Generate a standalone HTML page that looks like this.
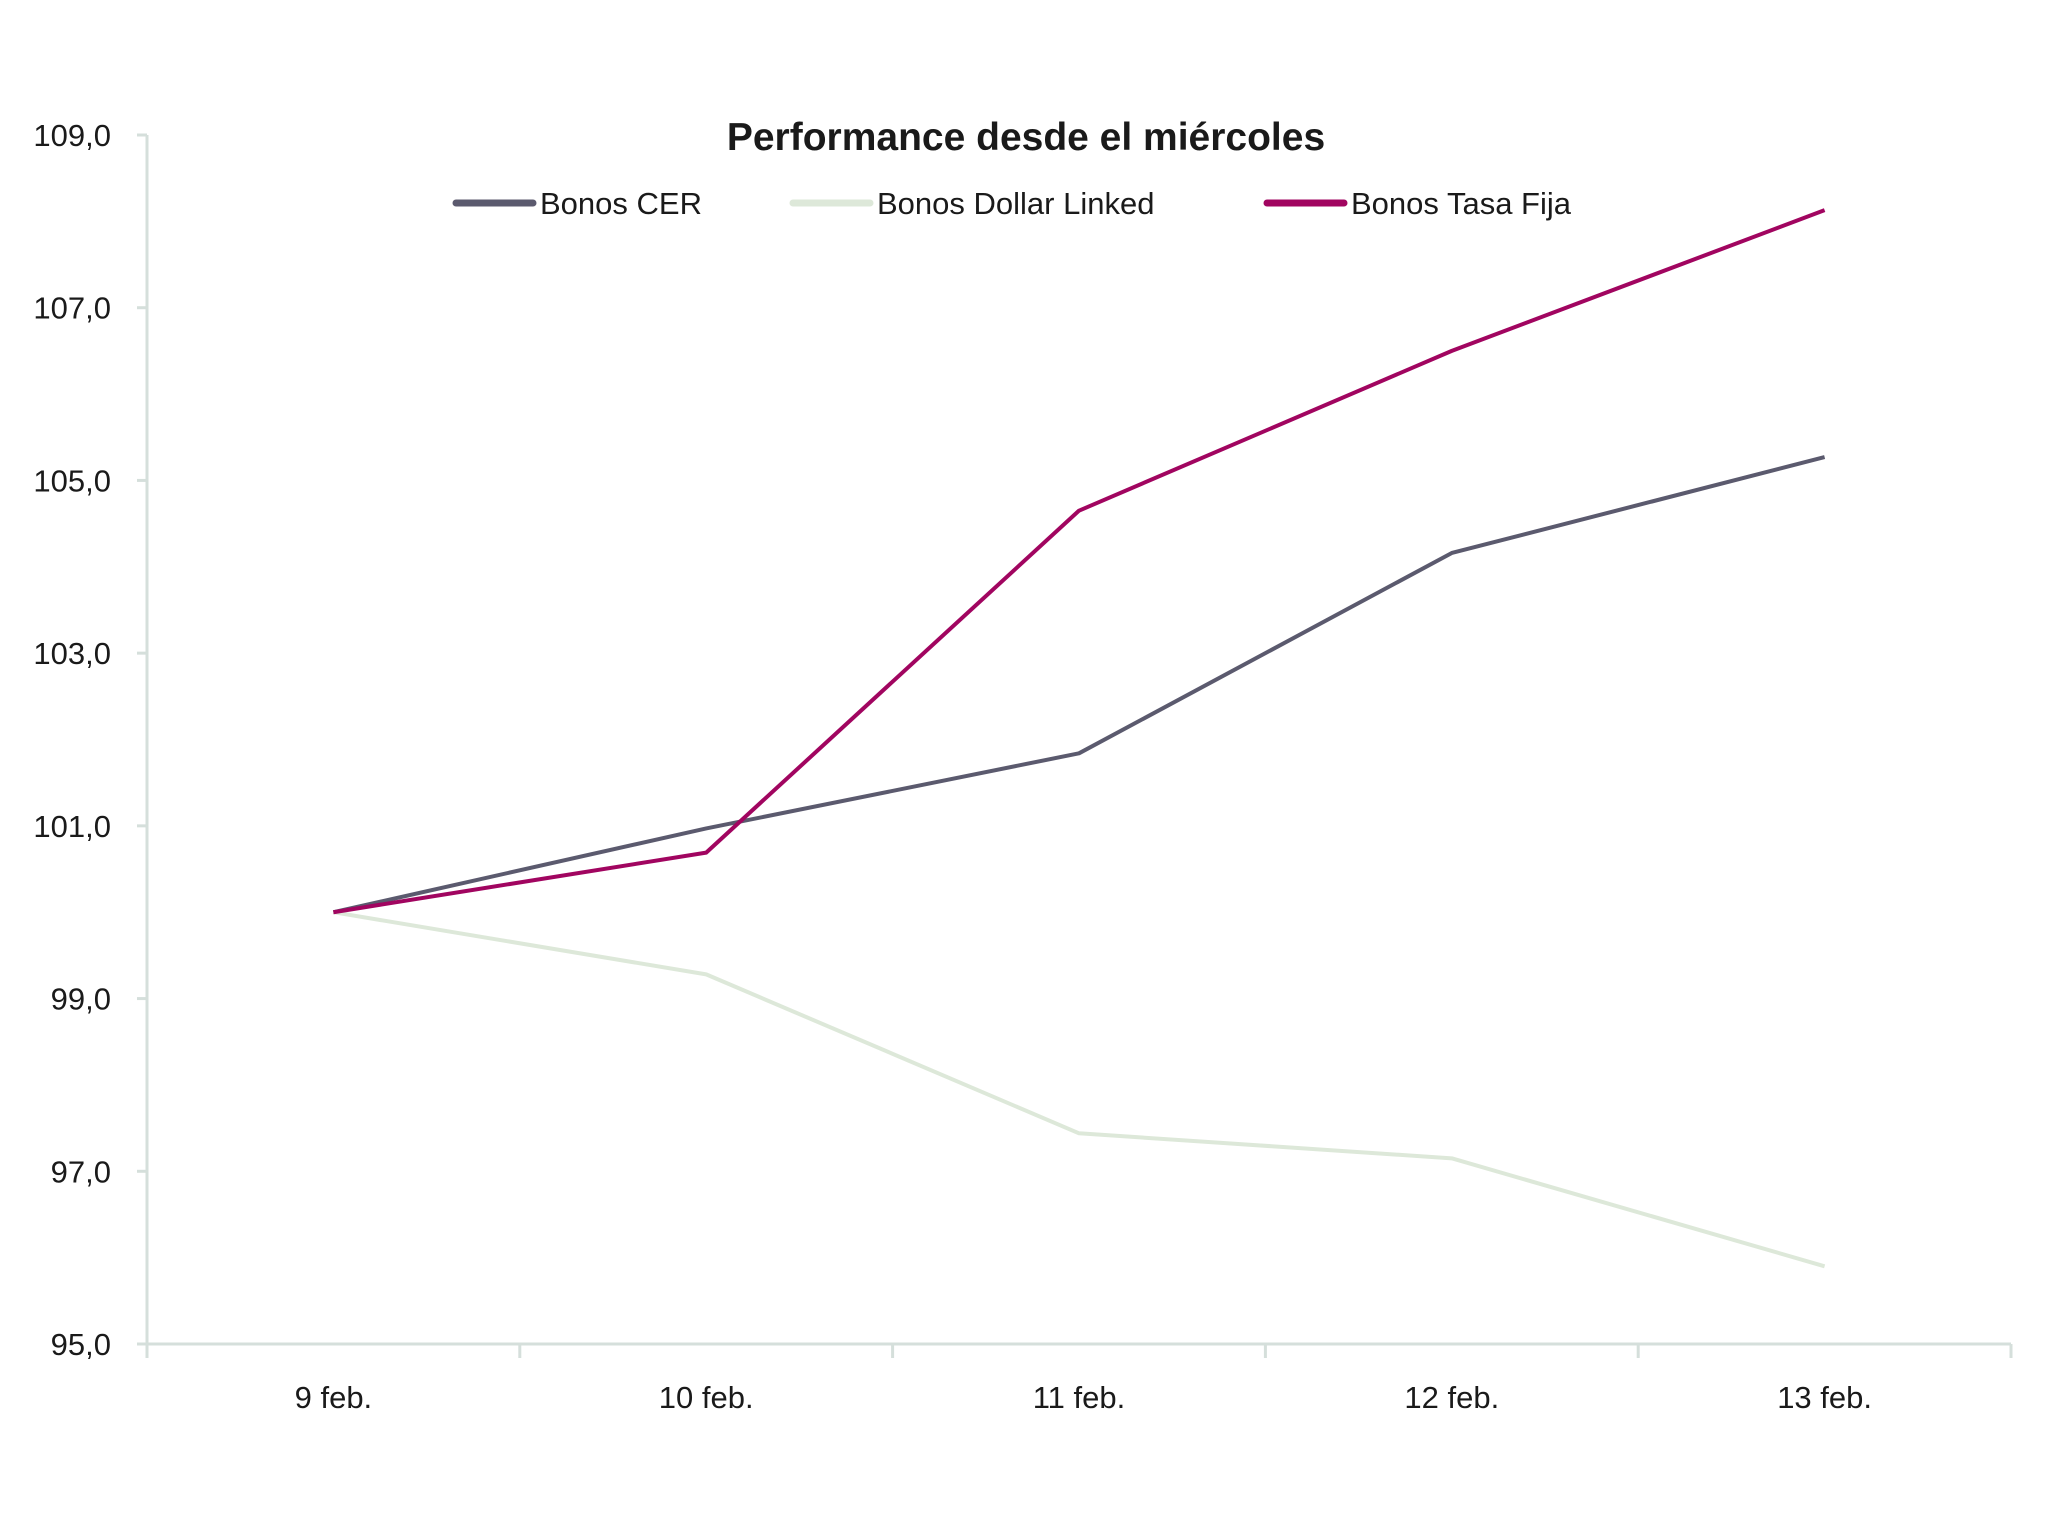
<!DOCTYPE html>
<html><head><meta charset="utf-8"><style>
body{margin:0;background:#fff;}
svg text{font-family:"Liberation Sans",sans-serif;fill:#1a1a1a;}
</style></head><body>
<svg id="chart" width="2054" height="1529" xmlns="http://www.w3.org/2000/svg">
<text x="1026" y="150" font-size="39" font-weight="bold" text-anchor="middle">Performance desde el miércoles</text>
<g id="legend"></g>
<g id="axes"></g>
<g id="series"></g>
</svg>
<script>
const categories = ["9 feb.","10 feb.","11 feb.","12 feb.","13 feb."];
const cer = [100.0, 100.97, 101.84, 104.16, 105.27];
const dollarLinked = [100.0, 99.28, 97.44, 97.15, 95.9];
const tasaFija = [100.0, 100.69, 104.65, 106.5, 108.13];
const yTicks = [95,97,99,101,103,105,107,109];
const yTickLabels = ["95,0","97,0","99,0","101,0","103,0","105,0","107,0","109,0"];
const seriesNames = ["Bonos CER","Bonos Dollar Linked","Bonos Tasa Fija"];
const colors = ["#5b5a6e","#dde8d9","#a10560"];

const NS="http://www.w3.org/2000/svg";
const L=147,R=2011,T=135,B=1344,yMin=95,yMax=109;
const bw=(R-L)/categories.length;
const xs=i=>L+bw*(i+0.5);
const ys=v=>B-(v-yMin)/(yMax-yMin)*(B-T);
function mk(tag,attrs,parent){const e=document.createElementNS(NS,tag);for(const k in attrs)e.setAttribute(k,attrs[k]);parent.appendChild(e);return e;}
const axes=document.getElementById('axes');
const yAxis=mk('line',{x1:L,y1:T,x2:L,y2:B,stroke:'#d5dfdb','stroke-width':3},axes);


const xAxis=mk('line',{x1:L,y1:B,x2:R,y2:B,stroke:'#d5dfdb','stroke-width':3},axes);


yTicks.forEach((v,i)=>{
  const y=ys(v);
  mk('line',{x1:L-10,y1:y,x2:L,y2:y,stroke:'#d5dfdb','stroke-width':3},axes);
  const t=mk('text',{x:111,y:y+11,'font-size':31,'text-anchor':'end'},axes);
  t.textContent=yTickLabels[i];
  
  
});
for(let i=0;i<=categories.length;i++){
  const x=L+bw*i;
  mk('line',{x1:x,y1:B,x2:x,y2:B+14,stroke:'#d5dfdb','stroke-width':3},axes);
}
categories.forEach((c,i)=>{
  const t=mk('text',{x:xs(i),y:1408,'font-size':31,'text-anchor':'middle'},axes);
  t.textContent=c;
  
  
});
const sg=document.getElementById('series');
[dollarLinked,cer,tasaFija].forEach((arr,k)=>{
  const idx=[1,0,2][k];
  const p=mk('polyline',{points:arr.map((v,i)=>xs(i)+','+ys(v)).join(' '),fill:'none',stroke:colors[idx],'stroke-width':4,'stroke-linejoin':'round'},sg);
  
  
});
const lg=document.getElementById('legend');
const lx=[456,793,1267];
seriesNames.forEach((n,i)=>{
  const l=mk('line',{x1:lx[i],y1:203,x2:lx[i]+77,y2:203,stroke:colors[i],'stroke-width':7,'stroke-linecap':'round'},lg);
  
  
  const t=mk('text',{x:lx[i]+84,y:214,'font-size':31},lg);
  t.textContent=n;
  
  
});
</script>
</body></html>
